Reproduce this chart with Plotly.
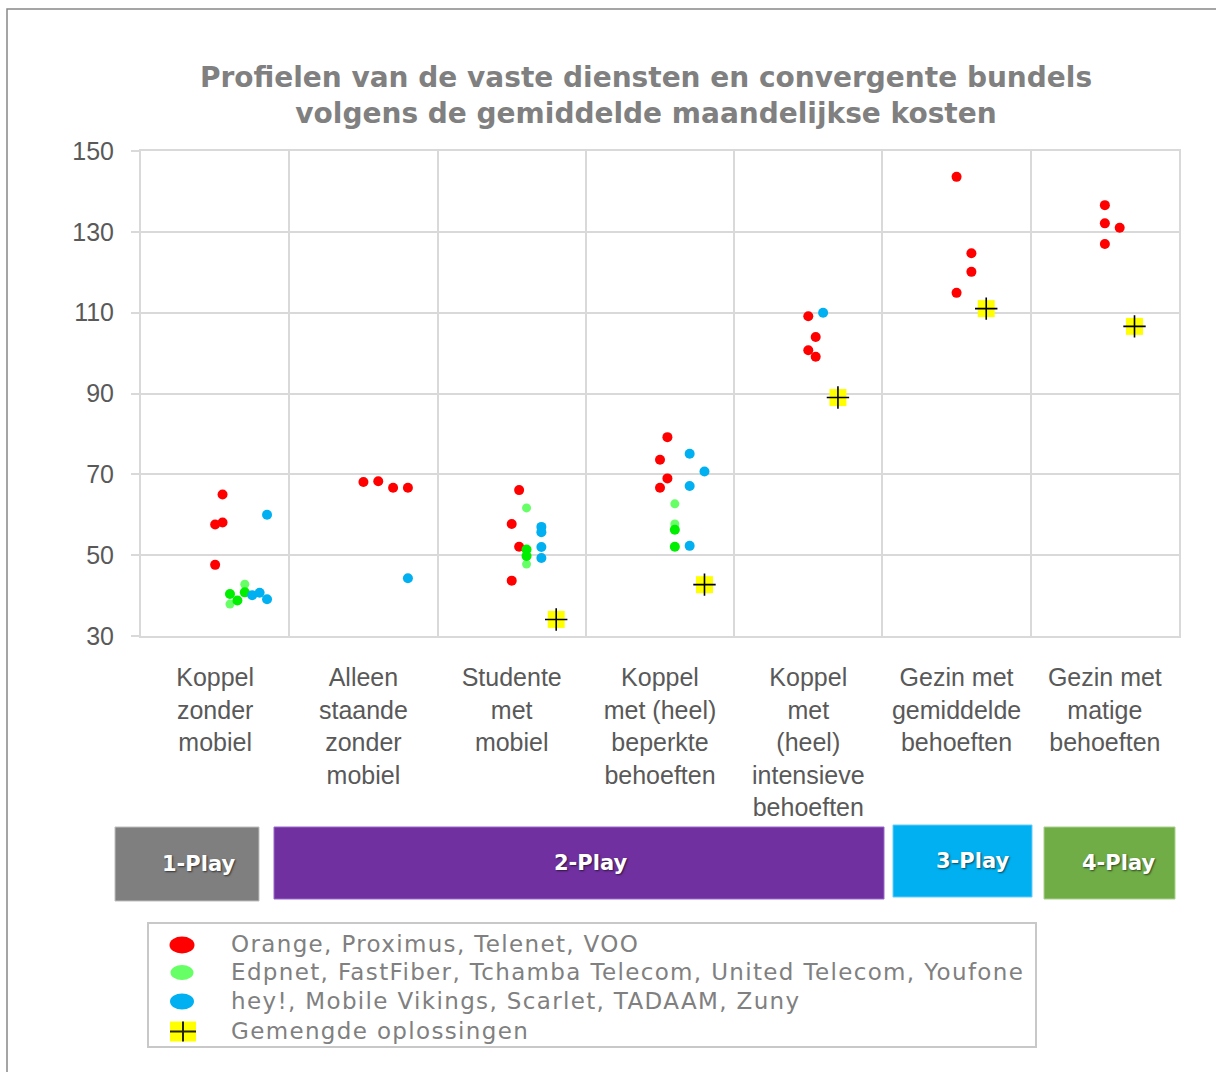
import plotly.graph_objects as go

# ---------------- data ----------------
categories = [
    "Koppel<br>zonder<br>mobiel",
    "Alleen<br>staande<br>zonder<br>mobiel",
    "Studente<br>met<br>mobiel",
    "Koppel<br>met (heel)<br>beperkte<br>behoeften",
    "Koppel<br>met<br>(heel)<br>intensieve<br>behoeften",
    "Gezin met<br>gemiddelde<br>behoeften",
    "Gezin met<br>matige<br>behoeften",
]

# Orange, Proximus, Telenet, VOO
red_cat = [0, 0, 0, 0, 1, 1, 1, 1, 2, 2, 2, 2, 3, 3, 3, 3, 4, 4, 4, 4, 5, 5, 5, 5, 6, 6, 6, 6]
red_jit = [0.55, 0.50, 0.55, 0.50, 0.50, 0.60, 0.70, 0.80, 0.55, 0.50, 0.55, 0.50,
           0.55, 0.50, 0.55, 0.50, 0.50, 0.55, 0.50, 0.55, 0.50, 0.60, 0.60, 0.50,
           0.50, 0.50, 0.60, 0.50]
red_val = [65.0, 57.6, 58.1, 47.6, 68.1, 68.3, 66.7, 66.7, 66.1, 57.7, 52.1, 43.7,
           79.2, 73.6, 69.0, 66.7, 109.1, 104.0, 100.7, 99.1, 143.6, 124.7, 120.1, 114.9,
           136.6, 132.1, 131.0, 127.0]

# Edpnet, FastFiber, Tchamba Telecom, United Telecom, Youfone (two shades)
green_cat = [0, 0, 0, 2, 2, 3, 3]
green_jit = [0.60, 0.70, 0.65, 0.60, 0.60, 0.60, 0.60]
green_val = [40.4, 40.8, 38.8, 51.4, 49.8, 56.3, 52.1]

lgreen_cat = [0, 0, 2, 2, 3, 3]
lgreen_jit = [0.70, 0.60, 0.60, 0.60, 0.60, 0.60]
lgreen_val = [42.8, 37.9, 61.7, 47.8, 62.7, 57.7]

# hey!, Mobile Vikings, Scarlet, TADAAM, Zuny
blue_cat = [0, 0, 0, 0, 1, 2, 2, 2, 2, 3, 3, 3, 3, 4]
blue_jit = [0.85, 0.75, 0.80, 0.85, 0.80, 0.70, 0.70, 0.70, 0.70, 0.70, 0.80, 0.70, 0.70, 0.60]
blue_val = [60.0, 40.1, 40.7, 39.1, 44.3, 57.0, 55.7, 52.0, 49.3, 75.1, 70.7, 67.1, 52.3, 110.0]

# Gemengde oplossingen
mix_cat = [2, 3, 4, 5, 6]
mix_jit = [0.80, 0.80, 0.70, 0.70, 0.70]
mix_val = [34.1, 42.7, 89.0, 111.0, 106.6]

legend_names = [
    "Orange, Proximus, Telenet, VOO",
    "Edpnet, FastFiber, Tchamba Telecom, United Telecom, Youfone",
    "hey!, Mobile Vikings, Scarlet, TADAAM, Zuny",
    "Gemengde oplossingen",
]

play_labels = ["1-Play", "2-Play", "3-Play", "4-Play"]

# ---------------- layout helpers ----------------
FW, FH = 1216, 1072
L, R, T, B = 141, 1179, 151, 636
PW, PH = R - L, B - T


def px(x):
    return (x - L) / PW


def py(y):
    return (B - y) / PH


def xs(cats, jit):
    return [c + j for c, j in zip(cats, jit)]


RED = "#FF0000"
GREEN = "#00EE00"
LGREEN = "#66FF66"
BLUE = "#00B0F0"
YELLOW = "#FFFF00"
GRID = "#D9D9D9"
TXT = "#595959"

fig = go.Figure()

fig.add_trace(go.Scatter(x=xs(red_cat, red_jit), y=red_val, mode="markers",
                         name=legend_names[0],
                         marker=dict(color=RED, size=10), showlegend=False))
fig.add_trace(go.Scatter(x=xs(lgreen_cat, lgreen_jit), y=lgreen_val, mode="markers",
                         name=legend_names[1],
                         marker=dict(color=LGREEN, size=9), showlegend=False))
fig.add_trace(go.Scatter(x=xs(green_cat, green_jit), y=green_val, mode="markers",
                         name=legend_names[1],
                         marker=dict(color=GREEN, size=10), showlegend=False))
fig.add_trace(go.Scatter(x=xs(blue_cat, blue_jit), y=blue_val, mode="markers",
                         name=legend_names[2],
                         marker=dict(color=BLUE, size=10), showlegend=False))
fig.add_trace(go.Scatter(x=xs(mix_cat, mix_jit), y=mix_val, mode="markers",
                         name=legend_names[3],
                         marker=dict(color=YELLOW, size=17, symbol="square"), showlegend=False))
fig.add_trace(go.Scatter(x=xs(mix_cat, mix_jit), y=mix_val, mode="markers",
                         name=legend_names[3],
                         marker=dict(color="black", size=16, symbol="cross-thin",
                                     line=dict(color="black", width=1.6)),
                         showlegend=False))

shapes = []
annotations = []
# outer chart border
shapes.append(dict(type="rect", xref="paper", yref="paper",
                   x0=px(7), x1=px(1240), y0=py(1100), y1=py(9),
                   line=dict(color="#888888", width=1.5), fillcolor="rgba(0,0,0,0)",
                   layer="below"))

# play-type boxes
play_boxes = [
    (115, 259, 827, 901, "#7F7F7F", "#BFBFBF", 198),
    (274, 884, 827, 899, "#7030A0", "#9966CC", 590),
    (893, 1032, 825, 897, "#00B0F0", "#66CCFF", 972),
    (1044, 1175, 827, 899, "#70AD47", "#A9D18E", 1118),
]
for (x0, x1, y0, y1, col, lc, tx), lab in zip(play_boxes, play_labels):
    shapes.append(dict(type="rect", xref="paper", yref="paper",
                       x0=px(x0), x1=px(x1), y0=py(y1), y1=py(y0),
                       line=dict(color=lc, width=1), fillcolor=col))
    annotations.append(dict(xref="paper", yref="paper", x=px(tx), y=py((y0 + y1) / 2),
                            text="<b>" + lab + "</b>", showarrow=False,
                            xanchor="center", yanchor="middle",
                            font=dict(family="DejaVu Sans", size=21, color="white",
                                      shadow="1px 1px 2px rgba(0,0,0,0.6)")))

# legend (drawn box, symbols and text)
shapes.append(dict(type="rect", xref="paper", yref="paper",
                   x0=px(148), x1=px(1036), y0=py(1047), y1=py(923),
                   line=dict(color="#C8C8C8", width=2), fillcolor="white"))
row_y = [945, 972.5, 1001.5, 1031.5]
sym_cols = [RED, LGREEN, BLUE]
sym_w = [25, 23, 24]
sym_h = [17, 15, 16]
for i in range(3):
    shapes.append(dict(type="circle", xref="paper", yref="paper",
                       x0=px(182 - sym_w[i] / 2), x1=px(182 + sym_w[i] / 2),
                       y0=py(row_y[i] + sym_h[i] / 2), y1=py(row_y[i] - sym_h[i] / 2),
                       line=dict(width=0), fillcolor=sym_cols[i]))
shapes.append(dict(type="rect", xref="paper", yref="paper",
                   x0=px(170), x1=px(196), y0=py(row_y[3] + 10), y1=py(row_y[3] - 10),
                   line=dict(width=0), fillcolor=YELLOW))
shapes.append(dict(type="line", xref="paper", yref="paper",
                   x0=px(183), x1=px(183), y0=py(row_y[3] + 10), y1=py(row_y[3] - 10),
                   line=dict(color="#222200", width=2)))
shapes.append(dict(type="line", xref="paper", yref="paper",
                   x0=px(170), x1=px(196), y0=py(row_y[3]), y1=py(row_y[3]),
                   line=dict(color="#222200", width=2)))
for i, name in enumerate(legend_names):
    annotations.append(dict(xref="paper", yref="paper", x=px(229), y=py(row_y[i] - 1),
                            text='<span style="letter-spacing:1.35px">' + name + "</span>",
                            showarrow=False, xanchor="left", yanchor="middle",
                            font=dict(family="DejaVu Sans", size=23, color="#808080")))

fig.update_layout(
    width=FW, height=FH,
    margin=dict(l=L, r=FW - R, t=T, b=FH - B),
    paper_bgcolor="white", plot_bgcolor="white",
    showlegend=False,
    title=dict(
        text="<b>Profielen van de vaste diensten en convergente bundels<br>"
             "volgens de gemiddelde maandelijkse kosten</b>",
        x=px(646), xref="paper", xanchor="center",
        y=1 - 87 / FH, yref="container", yanchor="middle",
        font=dict(family="DejaVu Sans", size=28, color="#808080"),
    ),
    xaxis=dict(
        range=[0, 7], tickvals=[i + 0.5 for i in range(7)], ticktext=categories,
        showgrid=False, zeroline=False, ticks="",
        showline=True, mirror=True, linecolor=GRID, linewidth=2,
        tickfont=dict(family="Liberation Sans, Arial", size=25, color=TXT),
        minor=dict(tickvals=list(range(1, 7)), showgrid=True, gridcolor=GRID, gridwidth=2),
        ticklabelstandoff=18,
    ),
    yaxis=dict(
        range=[30, 150], tick0=30, dtick=20,
        showgrid=True, gridcolor=GRID, gridwidth=2, zeroline=False,
        showline=True, mirror=True, linecolor=GRID, linewidth=2,
        ticks="outside", ticklen=8, tickcolor=GRID, tickwidth=2,
        tickfont=dict(family="Liberation Sans, Arial", size=25, color=TXT),
        ticklabelstandoff=12,
    ),
    shapes=shapes,
    annotations=annotations,
)

fig.write_html("out.html", config={"displayModeBar": False},
               post_script="document.body.style.margin='0';document.body.style.overflow='hidden';")
